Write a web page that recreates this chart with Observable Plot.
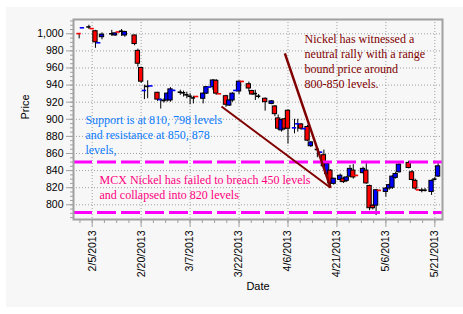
<!DOCTYPE html>
<html><head><meta charset="utf-8">
<script src="https://cdn.jsdelivr.net/npm/d3@7"></script>
<script src="https://cdn.jsdelivr.net/npm/@observablehq/plot@0.6"></script>
<style>
html,body{margin:0;padding:0;background:#fff;}
#wrap{position:relative;width:463px;height:314px;}
#panel{position:absolute;left:6px;top:7px;width:457px;height:300px;background:#f7f7f7;}
#wrap svg{position:absolute;left:0;top:0;}
</style></head><body><div id="wrap"><div id="panel"></div></div>
<script>
// ---- data ----
const dates = ["2013-02-01","2013-02-02","2013-02-04","2013-02-05","2013-02-06","2013-02-07","2013-02-08",
"2013-02-11","2013-02-12","2013-02-13","2013-02-14","2013-02-15","2013-02-18","2013-02-19","2013-02-20",
"2013-02-21","2013-02-22","2013-02-23","2013-02-25","2013-02-26","2013-02-27","2013-02-28","2013-03-01","2013-03-02",
"2013-03-04","2013-03-05","2013-03-06","2013-03-07","2013-03-08","2013-03-09","2013-03-11","2013-03-12","2013-03-13",
"2013-03-14","2013-03-15","2013-03-16","2013-03-18","2013-03-19","2013-03-20","2013-03-21","2013-03-22","2013-03-23",
"2013-03-25","2013-03-26","2013-03-27","2013-03-28","2013-03-30","2013-04-01","2013-04-02","2013-04-03","2013-04-04",
"2013-04-05","2013-04-06","2013-04-08","2013-04-09","2013-04-10","2013-04-11","2013-04-12","2013-04-13","2013-04-15",
"2013-04-16","2013-04-17","2013-04-18","2013-04-19","2013-04-20","2013-04-22","2013-04-23","2013-04-24","2013-04-25",
"2013-04-26","2013-04-27","2013-04-29","2013-04-30","2013-05-01","2013-05-02","2013-05-03","2013-05-04","2013-05-06",
"2013-05-07","2013-05-08","2013-05-09","2013-05-10","2013-05-13","2013-05-14","2013-05-15","2013-05-16","2013-05-17",
"2013-05-18","2013-05-20","2013-05-21","2013-05-22"];
const opens = [1000.4,1006.8,1008,1006.2,1003,989.3,996,
1000,998,1002.3,1003,998,998,980,960,
933.5,938.5,938.8,931,922.8,922,922,922,933.5,
931.7,931,928.6,927,925,926.8,924,930,937.4,
937.6,945,930,927,916,922,933.5,932.5,944.4,
941,933,930,927,924,918,915,901,887,
900,910,889.8,894.5,894,888.8,891,868.5,864.7,
861.3,858,836,840,824.5,829,830.5,828,833,
840,834.5,837,840,822,799,799,817,815,
819,820,831.5,838,849,838,828,817.7,817,
817,815,830,833];
const highs = [1000.4,1007.2,1010,1006.2,1004,989.7,1001,
1004,1001,1002.3,1005,1003,998.5,982,961,
940,945,939.2,931.5,924,924,931,937,934,
934,933,931.7,930,927,926.8,931,938,937.8,
946.5,946.5,930,928,923,931,933.9,945,944.4,
943.5,934,934,929,925,922,916,905,900,
901,911,900,900,895,889.2,893,874,866,
861.7,864,849,841,831,836,832,833,846,
847,834.5,844,848,823,800,818,817,820,
824,834,838,848,851,840,830,817.7,819,
819,829,832,849];
const lows = [994,1006.8,1005,1005.8,983,989.3,993,
997,997,1001.9,997,996,986,961,942,
923,924,938.8,921,912,919,920,920,933.5,
928,926,924,917,918,926.4,918,929,937.4,
934,928,929.6,914,915,920,933.5,929,944,
932,928,922,924,909.5,917,903,887,885,
887,871,883,885,887,888.8,874,867,855,
861.3,843,835,822,823,826,825,826,832,
830,834.1,836,824,793,794,787.5,816.6,809,
817,818,830,837,842,828,817,817.3,814,
815,811,828,832];
const closes = [1000,1007.2,1008,1005.8,990,989.7,999,
1000,1000.5,1001.9,1003,1002,988,965,944,
933.9,938.5,939.2,923,923.2,922,930,935,934,
931.7,931,928.6,927,925,926.4,930,937.6,937.8,
945.4,930,929.6,917,922,930,933.9,944,944,
936,929,930,927,920,921,906,889,899,
889,889,890.2,894.9,889,889.2,875,873,864.7,
861.7,845,848,825,830.5,834,826.5,832,842,
832,834.1,842,825,796,796,817,816.6,819,
823,833,836,847,843,829,819,817.3,817,
817,828,830,845];

const yTicks = [800,820,840,860,880,900,920,940,960,980,1000];
const xTickDates = ["2013-02-05","2013-02-20","2013-03-07","2013-03-22","2013-04-06","2013-04-21","2013-05-06","2013-05-21"];
const levels = [850, 791];
const trendStarts = [{date:"2013-03-16T15:00Z", price:915}, {date:"2013-04-05T01:00Z", price:977}];
const trendEnds = [{date:"2013-04-19T01:00Z", price:820}, {date:"2013-04-19T01:00Z", price:820}];
const noteNickel = {date:"2013-04-11T02:00Z", price:1001.4, text:"Nickel has witnessed a\nneutral rally with a range\nbound price around\n800-850 levels."};
const noteSupport = {date:"2013-02-02T22:00Z", price:907.4, text:"Support is at 810, 798 levels\nand resistance at 850, 878\nlevels,"};
const noteMcx = {date:"2013-02-07T06:00Z", price:837.2, text:"MCX Nickel has failed to breach 450 levels\nand collapsed into 820 levels"};

// ---- build ----
const DAY = 864e5;
const candles = dates.map((d, i) => ({date: new Date(d), open: opens[i], high: highs[i], low: lows[i], close: closes[i]}));
const bodies = candles.filter(d => Math.abs(d.close - d.open) >= 1);
const flats = candles.filter(d => Math.abs(d.close - d.open) < 1);
const col = d => d.close > d.open ? "#0000ff" : d.close < d.open ? "#ff0000" : "#000000";
const half = 0.66 * DAY;
const xMajor = xTickDates.map(d => new Date(d));
const xMinor = d3.range(-1, 29).map(k => new Date(+xMajor[0] + k * 3.75 * DAY));
const yMinor = d3.range(785, 1016, 5);
const trends = trendStarts.map((s, i) => ({d1: new Date(s.date), p1: s.price, d2: new Date(trendEnds[i].date), p2: trendEnds[i].price}));
const note = n => [{...n, date: new Date(n.date)}];
const serif = "'Liberation Serif','Times New Roman',serif";

const chart = Plot.plot({
  width: 463, height: 314,
  marginLeft: 73, marginTop: 19, marginRight: 21, marginBottom: 95,
  style: {background: "transparent", fontFamily: "'Liberation Sans',Arial,sans-serif", fontSize: "10.5px", color: "black", overflow: "visible"},
  x: {type: "utc", domain: [new Date("2013-01-30T06:30Z"), new Date("2013-05-23T08:24Z")]},
  y: {domain: [782.8, 1016.7]},
  color: {type: "identity"},
  marks: [
    Plot.gridY(yTicks, {stroke: "#a0a0a0", strokeOpacity: 1, strokeDasharray: "1,2"}),
    Plot.gridX(xMajor, {stroke: "#a0a0a0", strokeOpacity: 1, strokeDasharray: "1,2"}),
    Plot.ruleX(candles, {x: "date", y1: "low", y2: "high", stroke: "black", strokeWidth: 1}),
    Plot.rect(bodies, {x1: d => new Date(+d.date - half), x2: d => new Date(+d.date + half), y1: "open", y2: "close", fill: col, stroke: "black", strokeWidth: 1}),
    Plot.ruleY(flats, {y: d => (d.open + d.close) / 2, x1: d => new Date(+d.date - half), x2: d => new Date(+d.date + half), stroke: col, strokeWidth: 1.6}),
    Plot.ruleY(levels, {stroke: "#ff00ff", strokeWidth: 3, strokeDasharray: "19,5"}),
    Plot.link(trends.slice(0, 1), {x1: "d1", y1: "p1", x2: "d2", y2: "p2", stroke: "#800000", strokeWidth: 2}),
    Plot.link(trends.slice(1), {x1: "d1", y1: "p1", x2: "d2", y2: "p2", stroke: "#800000", strokeWidth: 2.5}),
    Plot.text(note(noteNickel), {x: "date", y: "price", text: "text", textAnchor: "start", lineAnchor: "top", lineHeight: 1.25, fontFamily: serif, fontSize: 12, fill: "#800000"}),
    Plot.text(note(noteSupport), {x: "date", y: "price", text: "text", textAnchor: "start", lineAnchor: "top", lineHeight: 1.25, fontFamily: serif, fontSize: 12, fill: "#0a7cff"}),
    Plot.text(note(noteMcx), {x: "date", y: "price", text: "text", textAnchor: "start", lineAnchor: "top", lineHeight: 1.25, fontFamily: serif, fontSize: 12, fill: "#ff0080"}),
    Plot.frame({stroke: "#a0a0a0", strokeWidth: 2}),
    Plot.axisY(yMinor, {tickSize: 3, tickFormat: () => "", stroke: "#a0a0a0", label: null}),
    Plot.axisY(yTicks, {tickSize: 7, tickPadding: 3, tickFormat: d3.format(","), stroke: "#a0a0a0", label: null}),
    Plot.axisX(xMinor, {tickSize: 4, tickFormat: () => "", stroke: "#a0a0a0", label: null}),
    Plot.axisX(xMajor, {tickSize: 8, tickPadding: 3, tickRotate: -90, tickFormat: d3.utcFormat("%-m/%-d/%Y"), stroke: "#a0a0a0", label: null}),
    Plot.text(["Price"], {frameAnchor: "left", dx: -48, rotate: -90, text: d => d, fontSize: 11}),
    Plot.text(["Date"], {frameAnchor: "bottom", dy: 70, text: d => d, fontSize: 11})
  ]
});
document.getElementById("wrap").appendChild(chart);
</script>
</body></html>
